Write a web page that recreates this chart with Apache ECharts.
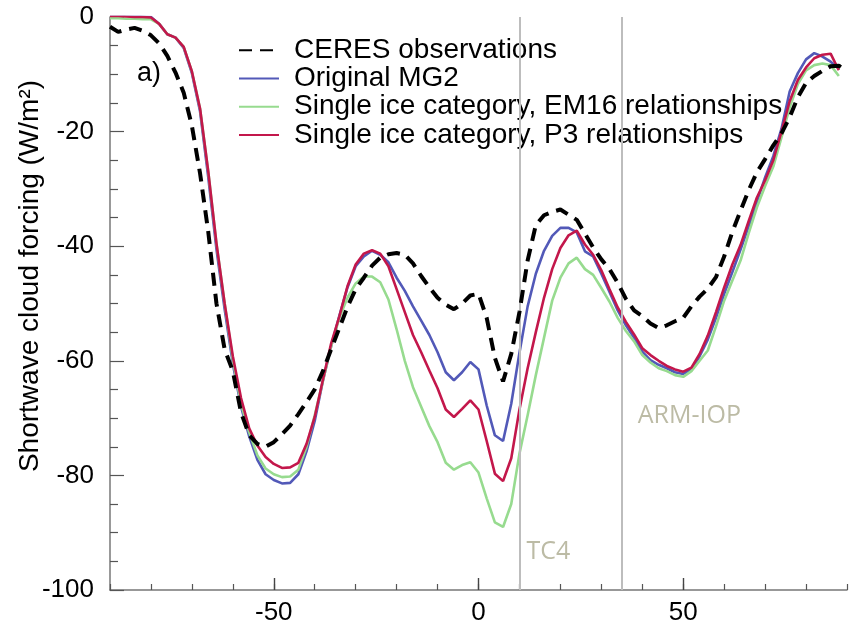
<!DOCTYPE html>
<html lang="en">
<head>
    <meta charset="UTF-8">
    <title>swcf</title>
    <script src="https://cdn.jsdelivr.net/npm/echarts@6/dist/echarts.min.js"></script>
    <style>
        html, body { margin: 0; padding: 0; background: #fff; }
        #chart { width: 850px; height: 626px; }
    </style>
</head>
<body>
<div id="chart"></div>
<script>
// latitude (deg)
var lat = [-90,-88,-86,-84,-82,-80,-78,-76,-74,-72,
    -70,-68,-66,-64,-62,-60,-58,-56,-54,-52,
    -50,-48,-46,-44,-42,-40,-38,-36,-34,-32,
    -30,-28,-26,-24,-22,-20,-18,-16,-14,-12,
    -10,-8,-6,-4,-2,0,2,4,6,8,
    10,12,14,16,18,20,22,24,26,28,
    30,32,34,36,38,40,42,44,46,48,
    50,52,54,56,58,60,62,64,66,68,
    70,72,74,76,78,80,82,84,86,88,
    90];

var ceres = [-1.7,-2.6,-2.2,-1.9,-2.4,-3.2,-4.6,-6.8,-9.7,-13.2,
    -19,-27.3,-37.5,-50,-58,-61.8,-69,-73,-74.5,-75,
    -74.2,-72.8,-71.3,-69.3,-67.2,-65,-61.8,-58,-54.3,-50.6,
    -47.5,-45.5,-43.4,-42,-41.4,-41.2,-41.5,-43,-45.2,-47.2,
    -49,-50.2,-51,-50,-48.6,-48.3,-52.5,-59.5,-63.6,-58.8,
    -51.5,-42.5,-36.3,-34.6,-34,-33.6,-34.5,-35.4,-37.8,-40.2,
    -42.3,-44,-46.4,-49.2,-51.2,-52.2,-53.5,-54.3,-53.8,-53.1,
    -52.5,-50.5,-48.8,-47.4,-45.4,-41.8,-37.5,-33.8,-30.2,-27.1,
    -24.8,-22.4,-20.3,-17.5,-14,-11.5,-10.3,-9.4,-8.6,-8.5,
    -9.5];

var mg2 = [0.4,0.4,0.3,0.2,0.1,0,-1.2,-3,-3.6,-5.4,
    -9.8,-16.5,-28,-40.5,-51,-60.5,-68,-73.2,-77.3,-79.8,
    -80.8,-81.4,-81.3,-79.8,-75.8,-70.5,-63.5,-57.5,-52.2,-47.2,
    -43.5,-41.8,-40.8,-41.5,-42.8,-45.5,-47.8,-50.5,-53,-55.5,
    -58.5,-62,-63.4,-62,-60.2,-61.5,-67.8,-73,-74,-67.5,
    -58.6,-50.5,-44.8,-40.8,-38.2,-36.8,-36.8,-37.6,-40.9,-41.8,
    -44.8,-48,-51.2,-53.8,-56,-58.4,-59.9,-60.7,-61.3,-62,
    -62.3,-61.5,-59.2,-56.3,-52.5,-48.3,-44.5,-40.6,-36.5,-32.2,
    -28,-24.3,-19.5,-13,-9.8,-7.4,-6.3,-6.9,-7.8,-9,
    null];

var em16 = [-0.2,-0.2,-0.3,-0.3,-0.4,-0.4,-1.2,-3,-3.6,-5.2,
    -9.5,-16,-27,-39.5,-50,-59.8,-67.5,-72.5,-76.5,-78.8,
    -79.8,-80.3,-80.2,-79,-75,-69.5,-63.5,-57.5,-52.5,-49,
    -46.5,-45.3,-45.3,-46.3,-49.3,-54.5,-60,-64.6,-68,-71.4,
    -74.2,-77.8,-79,-78.2,-77.7,-79.5,-84,-88.2,-89,-85,
    -76.2,-69.5,-62.5,-56,-49.5,-45.5,-43,-42,-44,-45,
    -47.3,-49.7,-52.5,-54.8,-56.6,-59,-60.3,-61.3,-61.8,-62.5,
    -62.8,-61.8,-60,-58.2,-54,-49.5,-46,-42.5,-37.7,-33.2,
    -29.5,-26.1,-21,-15.8,-11.7,-9.3,-8.4,-8.1,-8.4,-10.3,
    null];

var p3 = [0.2,0.2,0.1,0,0,-0.1,-1.2,-3,-3.6,-5.2,
    -9.5,-16,-27,-39.5,-50,-59.2,-66.5,-71.8,-74.8,-76.8,
    -78,-78.7,-78.6,-77.8,-74.5,-69.8,-63.3,-57,-52.3,-47,
    -43.2,-41.3,-40.7,-41.3,-43.5,-47.5,-51.5,-55.5,-58.5,-61.7,
    -64.8,-68.5,-69.8,-68.4,-66.9,-68.5,-74,-79.7,-81,-77,
    -68.5,-61.3,-55,-49,-44,-40.3,-38.1,-37.3,-39.7,-41.5,
    -44.2,-47.5,-50.7,-53.2,-55.4,-57.8,-59,-60,-60.9,-61.5,
    -61.9,-61.2,-58.8,-55.6,-51.5,-47.2,-43.2,-39.8,-35.6,-31.5,
    -28.5,-25,-20,-14.7,-11,-8.8,-7.2,-6.6,-6.4,-9.3,
    null];

var names = ['CERES observations', 'Original MG2',
    'Single ice category, EM16 relationships', 'Single ice category, P3 relationships'];
var colors = ['#000000', '#5259b8', '#97db8f', '#c3174b'];

// campaign lines and their labels
var campLat = [10, 35];
var campNames = ['TC4', 'ARM-IOP'];
var campLabelY = [-93.3, -69.6];

var font = 'Liberation Sans, Arial, Helvetica, sans-serif';

function pairs(arr) {
    return lat.map(function (x, i) { return [x, arr[i]]; });
}

var chart = echarts.init(document.getElementById('chart'));

var series = [ceres, mg2, em16, p3].map(function (arr, i) {
    return {
        name: names[i],
        type: 'line',
        data: pairs(arr),
        symbol: 'none',
        showSymbol: false,
        z: i === 0 ? 5 : 2 + i * 0.1,
        lineStyle: {
            color: colors[i],
            width: i === 0 ? 4 : 2.6,
            type: i === 0 ? [13, 8] : 'solid'
        },
        itemStyle: { color: colors[i] }
    };
});

// reference lines + their labels on a separate empty series
series.push({
    type: 'line',
    data: [],
    silent: true,
    z: 1,
    markLine: {
        silent: true,
        symbol: ['none', 'none'],
        label: { show: false },
        lineStyle: { color: '#bdbdbd', width: 2, type: 'solid' },
        data: campLat.map(function (v) { return { xAxis: v }; })
    },
    markPoint: {
        silent: true,
        symbol: 'circle',
        symbolSize: 0,
        label: {
            show: true,
            position: 'right',
            formatter: '{b}',
            color: '#bcbba5',
            fontFamily: 'Open Sans, sans-serif',
            fontSize: 25
        },
        data: campLat.map(function (v, i) {
            return { name: campNames[i], coord: [v, campLabelY[i]], label: { offset: [i === 0 ? 2 : 11, 0] } };
        })
    }
});

var tickStyle = { color: '#555', width: 1.2 };

var option = {
    animation: false,
    backgroundColor: '#fff',
    grid: { left: 110, right: 3, top: 17, bottom: 35 },
    legend: {
        orient: 'vertical',
        left: 233,
        top: 31,
        itemWidth: 40,
        itemHeight: 14,
        itemGap: 0,
        data: names,
        itemStyle: { opacity: 0 },
        textStyle: {
            fontFamily: font,
            fontSize: 28,
            lineHeight: 28.3,
            color: '#000',
            padding: [0, 0, 0, 10]
        }
    },
    xAxis: [{
        type: 'value',
        position: 'bottom',
        min: -90,
        max: 90,
        interval: 10,
        splitLine: { show: false },
        axisLine: { onZero: false, lineStyle: { color: '#777', width: 1.5 } },
        axisTick: { inside: true, length: 6, lineStyle: tickStyle },
        axisLabel: {
            fontFamily: font,
            fontSize: 26,
            color: '#000',
            margin: 10,
            formatter: function (v) { return v % 50 === 0 ? String(v) : ''; }
        }
    }, {
        type: 'value',
        position: 'bottom',
        min: -90,
        max: 90,
        splitLine: { show: false },
        axisLine: { show: false, onZero: false },
        axisTick: { show: true, inside: true, length: 12, customValues: [-50, 0, 50], lineStyle: { color: '#444', width: 1.4 } },
        axisLabel: { show: false }
    }],
    yAxis: {
        type: 'value',
        position: 'left',
        min: -100,
        max: 0,
        interval: 20,
        splitLine: { show: false },
        axisLine: { show: true, onZero: false, lineStyle: { color: '#777', width: 1.5 } },
        axisTick: { show: true, inside: true, length: 14, lineStyle: tickStyle },
        minorTick: { show: true, splitNumber: 4, length: 8, lineStyle: tickStyle },
        minorSplitLine: { show: false },
        axisLabel: {
            fontFamily: font,
            fontSize: 26,
            color: '#000',
            margin: 16,
            showMinLabel: true,
            showMaxLabel: true
        }
    },
    graphic: [{
        type: 'text',
        x: 30,
        y: 276,
        rotation: Math.PI / 2,
        style: {
            text: 'Shortwave cloud forcing (W/m²)',
            fontFamily: font,
            fontSize: 28,
            fill: '#000',
            textAlign: 'center',
            textVerticalAlign: 'middle'
        }
    }, {
        type: 'text',
        left: 137,
        top: 60,
        style: { text: 'a)', fontFamily: font, fontSize: 27, fill: '#000' }
    }],
    series: series
};

chart.setOption(option);
</script>
</body>
</html>
